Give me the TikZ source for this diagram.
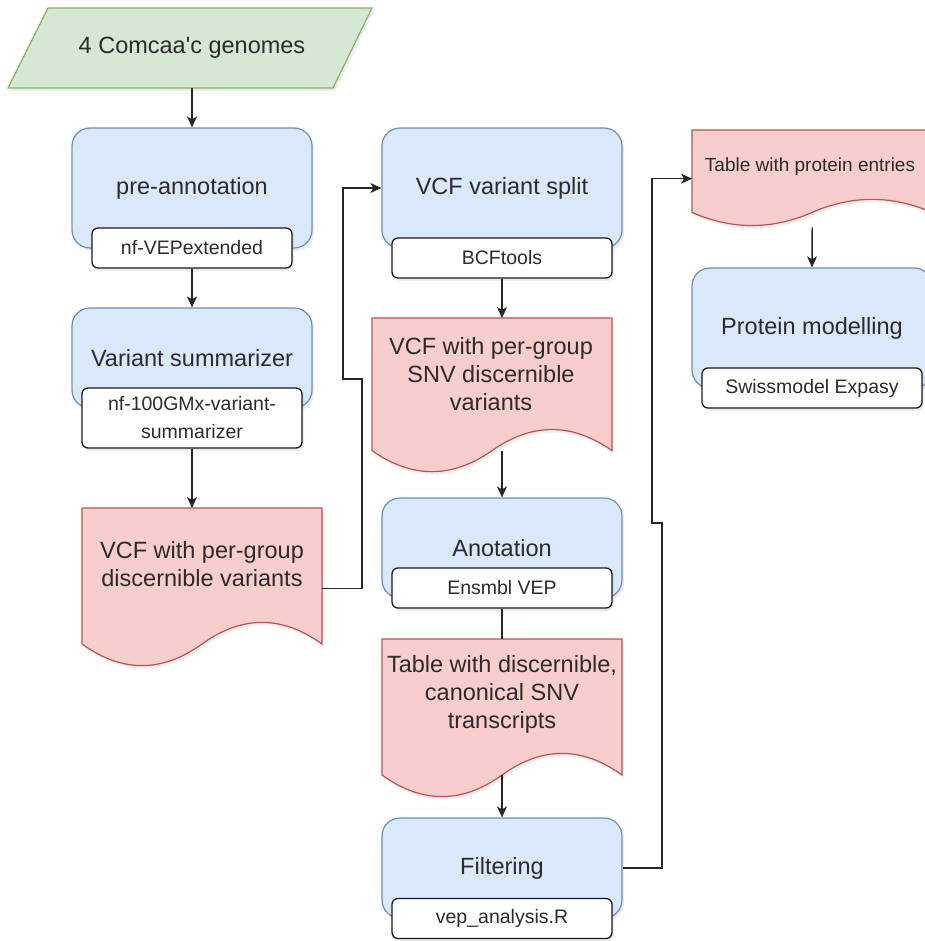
\documentclass[tikz,border=0pt]{standalone}
\usepackage{fontspec}
\setmainfont{Liberation Sans}
\usetikzlibrary{arrows.meta,shadows,calc}
\definecolor{bfill}{HTML}{DAE8FC}
\definecolor{bdraw}{HTML}{6C8EBF}
\definecolor{rfill}{HTML}{F8CECC}
\definecolor{rdraw}{HTML}{B85450}
\definecolor{gfill}{HTML}{D5E8D4}
\definecolor{gdraw}{HTML}{82B366}
\definecolor{txt}{HTML}{2B2B2B}
\tikzset{
  shadowed/.style={drop shadow={opacity=0.15, shadow xshift=2pt, shadow yshift=-3pt}},
  maintext/.style={font=\fontsize{23.5}{28}\selectfont, text=txt, align=center},
  proc/.style={maintext, draw=bdraw, fill=bfill, rounded corners=18pt, line width=1.2pt,
    minimum width=240pt, minimum height=120pt, inner sep=0pt, shadowed},
  tool/.style={draw=black!90, fill=white, rounded corners=6pt, line width=1.3pt,
    minimum height=40pt, font=\fontsize{19.5}{28}\selectfont, text=txt, inner sep=0pt,
    align=center, shadowed},
  docsty/.style={draw=rdraw, fill=rfill, line width=1.2pt, shadowed},
  conn/.style={line width=1.4pt, draw=black!85},
  arr/.style={conn, -{Stealth[length=11pt,width=10pt,inset=3pt]}},
}
% name, x0, y0, w, h
\newcommand{\docshape}[5]{%
  \path[docsty] (#2,#3) -- ({#2+#4},#3) -- ({#2+#4},{#3+0.85*#5})
    .. controls ({#2+0.8333*#4},{#3+0.67*#5}) and ({#2+0.6667*#4},{#3+0.67*#5}) .. ({#2+0.5*#4},{#3+0.85*#5})
    .. controls ({#2+0.3333*#4},{#3+1.03*#5}) and ({#2+0.1667*#4},{#3+1.03*#5}) .. (#2,{#3+0.85*#5})
    -- cycle;
  \node[inner sep=0pt, minimum width=#4, minimum height=#5, anchor=north west] (#1) at (#2,#3) {};
  \coordinate (#1-w) at ({#2+0.5*#4},{#3+0.85*#5});
}
\begin{document}
\begin{tikzpicture}[x=1pt,y=-1pt]
\useasboundingbox (0,0) rectangle (924,941);

% input parallelogram
\path[draw=gdraw, fill=gfill, line width=1.2pt, shadowed]
  (48,8) -- (372,8) -- (333,88) -- (8,88) -- cycle;
\node[maintext, minimum width=364, minimum height=80, inner sep=0pt] (gen) at (192,48) {4 Comcaa\textquotesingle c genomes};

% left column
\node[proc] (pre) at (192,188) {pre-annotation};
\node[tool, minimum width=200] (pret) at (192,248) {nf-VEPextended};
\node[proc, minimum height=100] (vs) at (192,358) {Variant summarizer};
\node[tool, minimum width=220, minimum height=60] (vst) at (192,418) {nf-100GMx-variant-\\summarizer};
\docshape{doc1}{82}{508}{240}{160}
\node[maintext] (doc1t) at (202,564) {VCF with per-group\\discernible variants};

% middle column
\node[proc] (vsp) at (502,188) {VCF variant split};
\node[tool, minimum width=220] (bcf) at (502,258) {BCFtools};
\docshape{doc2}{372}{318}{240}{156}
\node[maintext] (doc2t) at (491,374) {VCF with per-group\\SNV discernible\\variants};
\node[proc, minimum height=100] (ano) at (502,548) {Anotation};
\node[tool, minimum width=220] (ens) at (502,588) {Ensmbl VEP};
\docshape{doc3}{382}{639}{240}{160}
\node[maintext] (doc3t) at (502,694) {Table with discernible,\\canonical SNV\\transcripts};
\node[proc, minimum height=100] (filt) at (502,868) {Filtering};
\node[tool, minimum width=220] (vep) at (502,918.5) {vep\_analysis.R};

% right column
\docshape{doc4}{692}{130}{240}{97}
\node[font=\fontsize{19}{24}\selectfont, text=txt] (doc4t) at (810,167) {Table with protein entries};
\node[proc] (prot) at (812,328) {Protein modelling};
\node[tool, minimum width=220] (swiss) at (812,388) {Swissmodel Expasy};

% connectors
\coordinate (j1) at (362,379);
\coordinate (j2) at (343,379);
\coordinate (j3) at (662,523);
\coordinate (j4) at (652,523);
\draw[arr] (gen.south) -- (pre.north);
\draw[arr] (pret.south) -- (vs.north);
\draw[arr] (vst.south) -- (vst.south |- doc1.north);
\draw[arr] (doc1.east) -| (j1) -- (j2) |- (vsp.west);
\draw[arr] (bcf.south) -- (bcf.south |- doc2.north);
\draw[arr] (ano.north |- doc2-w) -- (ano.north);
\draw[conn] (ens.south) -- (ens.south |- doc3.north);
\draw[arr] (doc3-w) -- (filt.north);
\draw[arr] (filt.east) -| (j3) -- (j4) |- (doc4.west);
\draw[arr] (doc4.south) -- (prot.north);
\end{tikzpicture}
\end{document}
